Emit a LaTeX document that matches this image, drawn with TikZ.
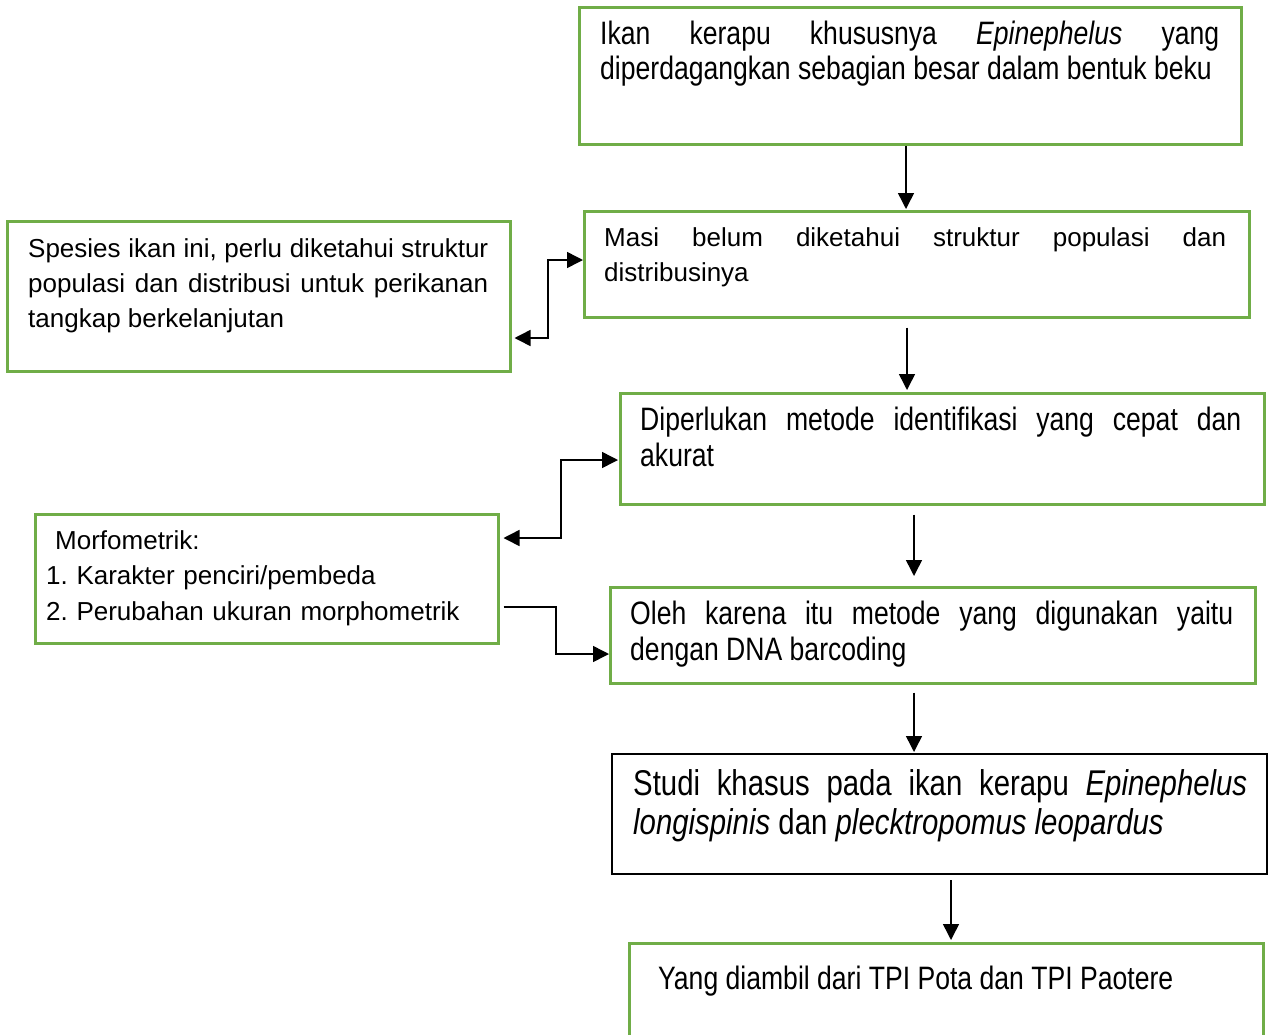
\documentclass[tikz,border=0pt]{standalone}
\usepackage{fontspec}
\setmainfont{Liberation Sans}
\newfontfamily\narrowfont[FakeStretch=0.82]{Liberation Sans}
\usetikzlibrary{arrows.meta}
\definecolor{boxgreen}{HTML}{70AD47}
\hyphenpenalty=10000
\exhyphenpenalty=10000
\tolerance=10000
\newcommand{\nosplit}{\hyphenpenalty=10000\relax\tolerance=10000\relax\frenchspacing}
\DeclareRobustCommand{\narA}{\narrowfont\fontsize{32.4pt}{35pt}\selectfont\nosplit\spaceskip=7.4pt plus 40pt minus 1pt\relax}
\DeclareRobustCommand{\narW}{\narrowfont\fontsize{32.4pt}{36pt}\selectfont\nosplit\spaceskip=7.4pt plus 40pt minus 1pt\relax}
\DeclareRobustCommand{\narB}{\narrowfont\fontsize{35.8pt}{39pt}\selectfont\nosplit\spaceskip=8.2pt plus 40pt minus 1pt\relax}
\tikzset{
  gbox/.style={draw=boxgreen, line width=2.5pt, inner sep=0pt, anchor=north west},
  kbox/.style={draw=black, line width=2pt, inner sep=0pt, anchor=north west},
  txt/.style={inner sep=0pt, anchor=base west, align=justify},
  line/.style={inner sep=0pt, anchor=base west},
  reg/.style={font=\fontsize{26pt}{35pt}\selectfont\nosplit},
  nar/.style={font=\narA},
  narw/.style={font=\narW},
  narb/.style={font=\narB},
  arr/.style={line width=1.5pt, -{Triangle[length=16pt,width=16pt]}},
  darr/.style={line width=1.5pt, {Triangle[length=16pt,width=16pt]}-{Triangle[length=16pt,width=16pt]}},
}
\begin{document}
\frenchspacing
\begin{tikzpicture}[x=1pt,y=-1pt]
\useasboundingbox (0,0) rectangle (1272,1034);
% boxes
\node[gbox, minimum width=662pt, minimum height=137pt] (B1) at (578,6) {};
\node[gbox, minimum width=665pt, minimum height=106pt] (B2) at (583,210) {};
\node[gbox, minimum width=503pt, minimum height=150pt] (L1) at (6,220) {};
\node[gbox, minimum width=644pt, minimum height=111pt] (B3) at (619,392) {};
\node[gbox, minimum width=463pt, minimum height=129pt] (L2) at (34,513) {};
\node[gbox, minimum width=645pt, minimum height=96pt] (B4) at (609,586) {};
\node[kbox, minimum width=655pt, minimum height=120pt] (B5) at (611,753) {};
\node[gbox, minimum width=634pt, minimum height=130pt] (B6) at (628,942) {};
% texts
\node[txt, nar, text width=619pt] (T1) at (600,44.5) {Ikan kerapu khususnya \textit{Epinephelus} yang\linebreak diperdagangkan sebagian besar dalam bentuk beku};
\node[txt, reg, text width=622pt] (T2) at (604,246.5) {Masi belum diketahui struktur populasi dan\linebreak distribusinya};
\node[txt, reg, text width=460pt] (T3) at (28,257.5) {Spesies ikan ini, perlu diketahui struktur\linebreak populasi dan distribusi untuk perikanan\linebreak tangkap berkelanjutan};
\node[txt, narw, text width=601pt] (T4) at (640,430.5) {Diperlukan metode identifikasi yang cepat dan\linebreak akurat};
\node[txt, reg, align=left, text width=445pt] (T5) at (46,549) {\hspace*{9pt}Morfometrik:\\[0.5pt]1. Karakter penciri/pembeda\\[0.5pt]2. Perubahan ukuran morphometrik};
\node[txt, narw, text width=603pt] (T6) at (630,624.5) {Oleh karena itu metode yang digunakan yaitu\linebreak dengan DNA barcoding};
\node[txt, narb, text width=614pt] (T7) at (633,795) {Studi khasus pada ikan kerapu \textit{Epinephelus}\linebreak \textit{longispinis} dan \textit{plecktropomus leopardus}};
\node[line, nar] (T8) at (658,989.5) {Yang diambil dari TPI Pota dan TPI Paotere};
% vertical connectors
\draw[arr, shorten >=1pt] (B1.south -| 906,0) -- (B2.north -| 906,0);
\draw[arr, shorten <=9pt, shorten >=2pt] (B2.south -| 907,0) -- (B3.north -| 907,0);
\draw[arr, shorten <=9pt, shorten >=10pt] (B3.south -| 914,0) -- (B4.north -| 914,0);
\draw[arr, shorten <=8pt, shorten >=1pt] (B4.south -| 914,0) -- (B5.north -| 914,0);
\draw[arr, shorten <=5pt, shorten >=2pt] (B5.south -| 951,0) -- (B6.north -| 951,0);
% side connectors
\draw[darr, shorten <=3pt] (L1.east |- 0,338) -| (548,260) -- (B2.west |- 0,260);
\draw[darr, shorten <=4pt, shorten >=1pt] (L2.east |- 0,538) -| (561,460) -- (B3.west |- 0,460);
\draw[arr, shorten <=4pt] (L2.east |- 0,607) -| (556,654) -- (B4.west |- 0,654);
\end{tikzpicture}
\end{document}
